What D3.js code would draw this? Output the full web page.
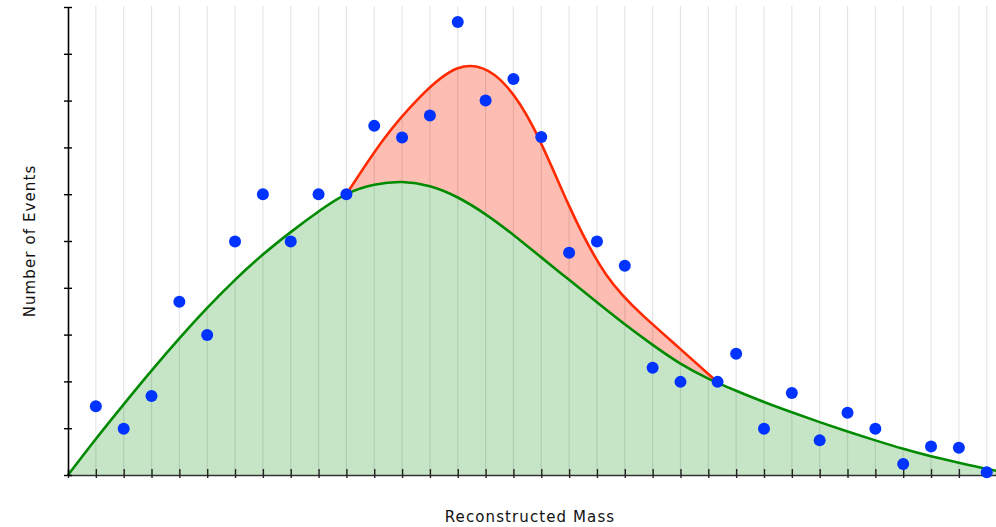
<!DOCTYPE html>
<html>
<head>
<meta charset="utf-8">
<script src="https://cdn.jsdelivr.net/npm/d3@7"></script>
<style>
  html, body { margin: 0; padding: 0; background: #fff; }
  svg { display: block; }
  text { font-family: "DejaVu Sans", "Open Sans", sans-serif; }
</style>
</head>
<body>
<svg id="chart" width="996" height="527"></svg>
<script>
// Measured histogram: event counts per mass bin
const massBins = [3, 6, 9, 12, 15, 18, 21, 24, 27, 30, 33, 36, 39, 42, 45, 48, 51,
                  54, 57, 60, 63, 66, 70, 72, 75, 78, 81, 84, 87, 90, 93, 96, 99];
const eventCounts = [1.47, 0.99, 1.69, 3.70, 2.99, 4.99, 6.0, 4.99, 6.0, 6.0, 7.46, 7.21, 7.68,
                     9.68, 8.0, 8.46, 7.22, 4.75, 4.99, 4.47, 2.29, 1.99, 1.99, 2.59, 0.99,
                     1.75, 0.74, 1.33, 0.99, 0.235, 0.61, 0.58, 0.06];

// Background-only model (runs a little past the right edge)
const backgroundMass = [0, 3, 6, 9, 12, 15, 18, 21, 24, 27, 30, 33, 36, 39, 42, 45, 48, 51,
                        54, 57, 60, 63, 66, 69, 72, 75, 78, 81, 84, 87, 90, 93, 96, 99, 102];
const backgroundCurve = [0, 0.77, 1.51, 2.23, 2.92, 3.57, 4.17, 4.71, 5.19, 5.63, 6.0, 6.20,
                         6.26, 6.17, 5.93, 5.57, 5.13, 4.65, 4.17, 3.69, 3.22, 2.78, 2.38, 2.06,
                         1.80, 1.56, 1.34, 1.13, 0.93, 0.74, 0.56, 0.40, 0.26, 0.13, 0.02];

// Background + signal model (only where the signal is non-zero)
const signalMass = [30, 34, 38, 42, 46, 50, 54, 58, 62, 66, 70];
const signalCurve = [6.0, 7.17, 8.09, 8.69, 8.54, 7.48, 5.75, 4.28, 3.40, 2.69, 1.98];

// Axis ticks
const massTicks = [0, 3, 6, 9, 12, 15, 18, 21, 24, 27, 30, 33, 36, 39, 42, 45, 48, 51, 54,
                   57, 60, 63, 66, 69, 72, 75, 78, 81, 84, 87, 90, 93, 96, 99];
const countTicks = [0, 1, 2, 3, 4, 5, 6, 7, 8, 9, 10];

const svg = d3.select("#chart");
const plotLeft = 68, plotRight = 996, plotTop = 7, plotBottom = 475;

const x = d3.scaleLinear().domain([0, 100]).range([plotLeft, plotRight]);
const y = d3.scaleLinear().domain([0, 10]).range([plotBottom, plotTop]);

const bg = backgroundMass.map((m, i) => ({ m, v: backgroundCurve[i] }));
const sig = signalMass.map((m, i) => ({ m, v: signalCurve[i] }));

const curve = d3.curveNatural;

// Signal + background area (the background area covers its lower part)
svg.append("path")
  .datum(sig)
  .attr("fill", "#fdbdb2")
  .attr("d", d3.area().x(d => x(d.m)).y0(y(0)).y1(d => y(d.v)).curve(curve));

// Background area
svg.append("path")
  .datum(bg)
  .attr("fill", "#c6e5c6")
  .attr("d", d3.area().x(d => x(d.m)).y0(y(0)).y1(d => y(d.v)).curve(curve));

// Vertical grid lines, translucent so they tint over the filled areas
svg.append("g")
  .selectAll("line")
  .data(massTicks.filter(d => d > 0))
  .join("line")
  .attr("x1", d => x(d)).attr("x2", d => x(d))
  .attr("y1", plotTop - 1).attr("y2", plotBottom)
  .attr("stroke", "rgba(0,0,0,0.1)")
  .attr("stroke-width", 1.2);

// Model lines
svg.append("path")
  .datum(bg)
  .attr("fill", "none")
  .attr("stroke", "#008a00")
  .attr("stroke-width", 2.6)
  .attr("d", d3.line().x(d => x(d.m)).y(d => y(d.v)).curve(curve));

svg.append("path")
  .datum(sig)
  .attr("fill", "none")
  .attr("stroke", "#ff2a00")
  .attr("stroke-width", 2.6)
  .attr("d", d3.line().x(d => x(d.m)).y(d => y(d.v)).curve(curve));

// Axes
const xAxis = svg.append("g")
  .attr("transform", `translate(0,${plotBottom})`)
  .call(d3.axisBottom(x).tickValues(massTicks).tickFormat("").tickSize(3).tickSizeOuter(0));
xAxis.select(".domain").attr("stroke", "#333").attr("stroke-width", 1.6);
xAxis.selectAll(".tick line").attr("y1", -6).attr("stroke", "#222").attr("stroke-width", 1.4);

const yAxis = svg.append("g")
  .attr("transform", `translate(${plotLeft},0)`)
  .call(d3.axisLeft(y).tickValues(countTicks).tickFormat("").tickSize(4).tickSizeOuter(0));
yAxis.select(".domain").attr("stroke", "#000").attr("stroke-width", 1.6);
yAxis.selectAll(".tick line").attr("x1", 4).attr("stroke", "#000").attr("stroke-width", 1.4);

// Data points
svg.append("g")
  .selectAll("circle")
  .data(massBins.map((m, i) => ({ m, v: eventCounts[i] })))
  .join("circle")
  .attr("cx", d => x(d.m))
  .attr("cy", d => y(d.v))
  .attr("r", 6)
  .attr("fill", "#0033ff");

// Axis titles
svg.append("text")
  .attr("x", (plotLeft + plotRight) / 2 - 2)
  .attr("y", 522)
  .attr("text-anchor", "middle")
  .attr("font-size", 15)
  .attr("letter-spacing", 1.1)
  .attr("fill", "#111")
  .text("Reconstructed Mass");

svg.append("text")
  .attr("transform", `translate(35,${(plotTop + plotBottom) / 2}) rotate(-90)`)
  .attr("text-anchor", "middle")
  .attr("font-size", 15)
  .attr("letter-spacing", 1.1)
  .attr("fill", "#111")
  .text("Number of Events");
</script>
</body>
</html>
